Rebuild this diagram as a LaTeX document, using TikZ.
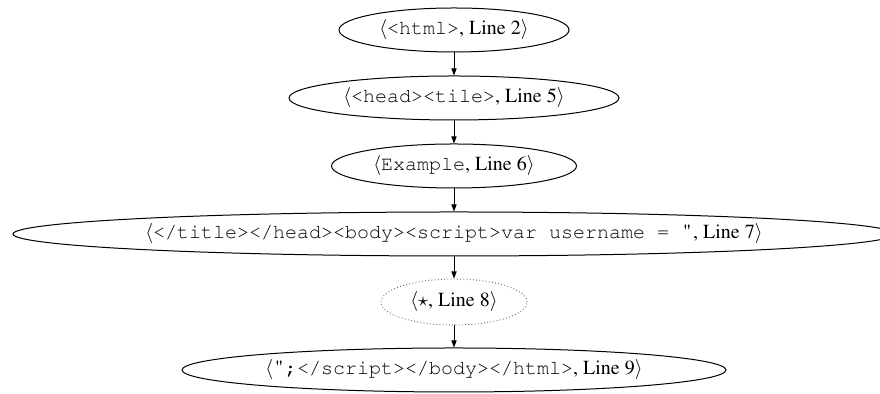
\documentclass[tikz,border=0pt]{standalone}
\usepackage[T1]{fontenc}
\usepackage{times}
\usetikzlibrary{shapes.geometric,arrows.meta}
\newcommand{\qmark}{\makebox[0.6em]{\rmfamily"}}
\begin{document}
\begin{tikzpicture}[x=1pt,y=1pt,
  tok/.style={ellipse,draw,line width=0.5pt,inner sep=0pt,minimum height=22pt,font=\fontsize{10pt}{12pt}\selectfont},
  wild/.style={tok,draw=black!60,dash pattern=on 0.4pt off 1.2pt,minimum height=23pt},
  arr/.style={line width=0.5pt,-{Triangle[length=3.5pt,width=2.6pt]}}]
\useasboundingbox (0,0) rectangle (440,197);
\node[tok,minimum width=115pt] (n1) at (227,182) {$\langle$\texttt{<html>}, Line 2$\rangle$};
\node[tok,minimum width=165pt] (n2) at (227,148) {$\langle$\texttt{<head><tile>}, Line 5$\rangle$};
\node[tok,minimum width=122.5pt] (n3) at (227,114) {$\langle$\texttt{Example}, Line 6$\rangle$};
\node[tok,minimum width=441pt] (n4) at (227,80) {$\langle$\texttt{</title></head><body><script>var username = \qmark}, Line 7$\rangle$};
\node[wild,minimum width=73pt] (n5) at (227,46) {$\langle\star$, Line 8$\rangle$};
\node[tok,minimum width=272pt] (n6) at (227,12) {$\langle$\texttt{\qmark;</script></body></html>}, Line 9$\rangle$};
\draw[arr] (n1) -- (n2);
\draw[arr] (n2) -- (n3);
\draw[arr] (n3) -- (n4);
\draw[arr] (n4) -- (n5);
\draw[arr] (n5) -- (n6);
\end{tikzpicture}
\end{document}
